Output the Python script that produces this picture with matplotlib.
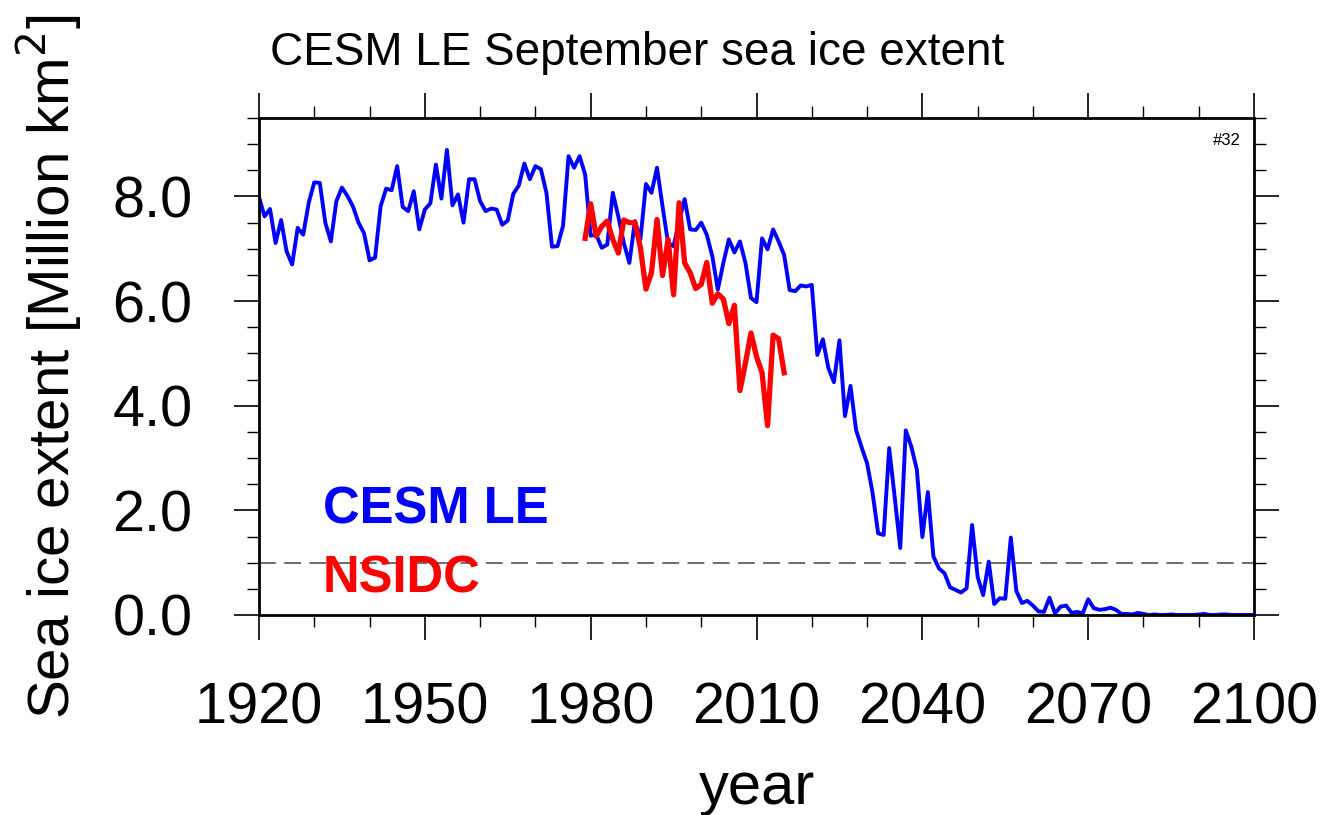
import matplotlib
matplotlib.use('Agg')
import matplotlib.pyplot as plt
from matplotlib.ticker import MultipleLocator
import numpy as np

# CESM LE September extent, one value per year 1920-2100 (million km2)
cesm_years = np.arange(1920, 2101)
cesm_extent = [
    7.99, 7.62, 7.76, 7.11, 7.55, 6.95, 6.70, 7.40, 7.27, 7.88,   # 1920s
    8.27, 8.26, 7.50, 7.14, 7.91, 8.17, 8.01, 7.81, 7.50, 7.30,   # 1930s
    6.78, 6.83, 7.81, 8.15, 8.12, 8.58, 7.80, 7.72, 8.10, 7.37,   # 1940s
    7.75, 7.87, 8.61, 7.96, 8.89, 7.83, 8.04, 7.50, 8.33, 8.33,   # 1950s
    7.91, 7.72, 7.77, 7.75, 7.46, 7.54, 8.05, 8.21, 8.63, 8.33,   # 1960s
    8.58, 8.52, 8.07, 7.04, 7.05, 7.44, 8.77, 8.55, 8.77, 8.42,   # 1970s
    7.25, 7.27, 7.02, 7.08, 8.07, 7.62, 7.11, 6.73, 7.53, 7.18,   # 1980s
    8.24, 8.07, 8.55, 7.81, 7.11, 7.05, 7.53, 7.95, 7.37, 7.36,   # 1990s
    7.50, 7.27, 6.86, 6.22, 6.73, 7.18, 6.93, 7.14, 6.73, 6.06,   # 2000s
    5.98, 7.20, 6.99, 7.37, 7.14, 6.88, 6.21, 6.19, 6.30, 6.28,   # 2010s
    6.31, 4.97, 5.27, 4.72, 4.45, 5.25, 3.80, 4.38, 3.54, 3.21,   # 2020s
    2.90, 2.33, 1.56, 1.53, 3.19, 2.25, 1.28, 3.53, 3.22, 2.78,   # 2030s
    1.49, 2.35, 1.12, 0.89, 0.80, 0.53, 0.48, 0.43, 0.51, 1.72,   # 2040s
    0.73, 0.38, 1.02, 0.21, 0.32, 0.31, 1.48, 0.46, 0.23, 0.27,   # 2050s
    0.18, 0.07, 0.06, 0.33, 0.03, 0.16, 0.18, 0.04, 0.06, 0.03,   # 2060s
    0.30, 0.13, 0.10, 0.11, 0.14, 0.10, 0.02, 0.02, 0.01, 0.04,   # 2070s
    0.02, 0.00, 0.01, 0.00, 0.00, 0.01, 0.00, 0.00, 0.00, 0.00,   # 2080s
    0.01, 0.02, 0.00, 0.00, 0.01, 0.01, 0.00, 0.00, 0.00, 0.00,   # 2090s
    0.00,                                                         # 2100
]

# NSIDC observed September extent 1979-2015
nsidc_years = np.arange(1979, 2016)
nsidc_extent = [
    7.20, 7.86, 7.24, 7.43, 7.53, 7.18, 6.92, 7.55, 7.50, 7.50,
    7.02, 6.23, 6.54, 7.56, 6.49, 7.18, 6.12, 7.88, 6.73, 6.54,
    6.24, 6.32, 6.74, 5.96, 6.14, 6.04, 5.57, 5.92, 4.29, 4.82,
    5.39, 4.94, 4.63, 3.62, 5.35, 5.28, 4.63,
]

threshold = 1.0
x_ticks = [1920, 1950, 1980, 2010, 2040, 2070, 2100]
y_ticks = [0, 2, 4, 6, 8]

plt.rcParams['font.family'] = ['Liberation Sans', 'DejaVu Sans']

fig = plt.figure(figsize=(13.22, 8.15), dpi=100)
ax = fig.add_axes([0.1959, 0.2454, 0.7527, 0.6098])

ax.axhline(threshold, color='#444444', lw=1.1, dashes=(11, 5.5), zorder=1)
ax.plot(cesm_years, cesm_extent, color='blue', lw=2.8, zorder=2)
ax.plot(nsidc_years, nsidc_extent, color='red', lw=3.8, zorder=3)

ax.set_xlim(1920, 2100)
ax.set_ylim(0, 9.5)
ax.set_xticks(x_ticks)
ax.set_yticks(y_ticks)
ax.set_yticklabels([f"{v:.1f}" for v in y_ticks])
ax.xaxis.set_minor_locator(MultipleLocator(10))
ax.yaxis.set_minor_locator(MultipleLocator(0.5))

ax.tick_params(which='both', direction='out', top=True, right=True)
ax.tick_params(which='major', length=18, width=1.2, labelsize=41.5, pad=30)
ax.tick_params(which='minor', length=8.5, width=1.0)
for sp in ax.spines.values():
    sp.set_linewidth(2.0)

ax.set_xlabel("year", fontsize=43, labelpad=18)
ax.set_ylabel("Sea ice extent [Million km$^2$]", fontsize=42, labelpad=20)

fig.text(0.204, 0.920, "CESM LE September sea ice extent", fontsize=33,
         va='baseline')
ax.text(0.987, 0.946, "#32", transform=ax.transAxes, fontsize=12,
        ha='right', va='baseline')
ax.text(0.064, 0.185, "CESM LE", transform=ax.transAxes, fontsize=36.5,
        fontweight='bold', color='blue', va='baseline')
ax.text(0.064, 0.046, "NSIDC", transform=ax.transAxes, fontsize=36.5,
        fontweight='bold', color='red', va='baseline')

fig.savefig("out.png", dpi=100)
